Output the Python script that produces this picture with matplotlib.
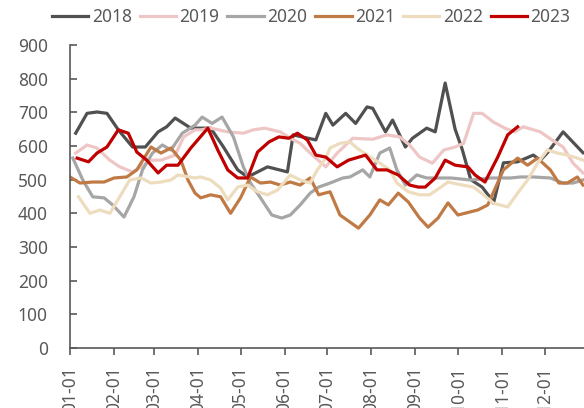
import matplotlib
matplotlib.use('Agg')
import matplotlib.pyplot as plt

plt.rcParams['font.family'] = ['Noto Sans', 'DejaVu Sans']

# dias desde 01-01 y valores
d2018 = [4, 12, 19, 26, 34, 44, 53, 62, 68, 74, 85, 99, 108, 118, 125, 139, 153, 157, 173, 180,
         185, 194, 201, 209, 213, 222, 227, 236, 241, 251, 257, 264, 271, 276, 282, 290, 296, 298,
         305, 315, 326, 331, 336, 347, 361]
v2018 = [638, 697, 701, 697, 648, 597, 597, 642, 657, 683, 653, 653, 597, 529, 508, 538, 523, 633,
         618, 697, 662, 697, 667, 716, 712, 642, 677, 597, 623, 653, 642, 787, 650, 590, 500, 478,
         445, 430, 550, 553, 573, 558, 580, 642, 580]

d2019 = [4, 12, 19, 28, 35, 44, 50, 57, 64, 74, 80, 88, 92, 99, 111, 122, 129, 137, 148, 155,
         162, 169, 180, 188, 199, 213, 223, 232, 239, 246, 255, 263, 271, 277, 284, 290, 298, 306,
         313, 319, 331, 336, 347, 354, 361]
v2019 = [579, 603, 594, 558, 538, 523, 538, 558, 558, 573, 627, 648, 648, 653, 642, 638, 648, 653,
         642, 623, 608, 579, 538, 579, 623, 620, 633, 627, 603, 567, 549, 588, 597, 608, 697, 697,
         671, 653, 642, 657, 642, 627, 597, 549, 520]

d2020 = [2, 9, 16, 24, 30, 38, 45, 51, 58, 65, 71, 79, 88, 93, 100, 107, 115, 122, 127, 135,
         142, 149, 155, 162, 169, 175, 183, 192, 197, 206, 211, 218, 225, 230, 236, 244, 251, 261,
         268, 282, 296, 310, 317, 326, 338, 347, 354, 361]
v2020 = [564, 499, 449, 446, 425, 389, 449, 529, 579, 603, 588, 638, 662, 686, 667, 686, 627, 538,
         490, 440, 395, 386, 395, 425, 460, 478, 490, 505, 508, 529, 508, 579, 594, 529, 484, 514,
         505, 505, 505, 499, 505, 505, 508, 508, 505, 490, 490, 499]

d2021 = [0, 7, 16, 24, 31, 40, 47, 57, 64, 71, 78, 83, 88, 92, 99, 106, 113, 120, 127, 134,
         141, 148, 155, 162, 169, 175, 183, 190, 197, 203, 211, 218, 224, 231, 238, 246, 252, 259,
         266, 273, 287, 294, 305, 315, 322, 329, 338, 344, 350, 357, 361]
v2021 = [508, 490, 493, 493, 505, 508, 529, 597, 579, 594, 558, 499, 460, 446, 455, 449, 400, 446,
         508, 490, 493, 484, 493, 484, 505, 455, 464, 395, 374, 356, 395, 440, 425, 460, 434, 386,
         359, 386, 431, 395, 410, 425, 529, 564, 543, 564, 529, 490, 490, 508, 484]

d2022 = [6, 14, 21, 28, 35, 42, 50, 57, 64, 71, 76, 88, 92, 99, 106, 111, 118, 125, 132, 139,
         146, 155, 162, 169, 174, 180, 183, 190, 197, 202, 209, 217, 225, 230, 238, 246, 253, 260,
         266, 276, 284, 291, 298, 308, 315, 322, 329, 336, 343, 350, 357, 361]
v2022 = [449, 400, 410, 400, 449, 499, 505, 490, 493, 499, 514, 505, 508, 499, 475, 440, 478, 484,
         464, 455, 469, 514, 499, 490, 529, 564, 594, 608, 612, 594, 573, 552, 529, 490, 464, 455,
         455, 475, 493, 484, 478, 455, 430, 419, 460, 499, 549, 588, 579, 573, 564, 558]

d2023 = [5, 13, 19, 26, 34, 41, 47, 54, 62, 68, 76, 85, 97, 104, 111, 118, 125, 132, 140, 147,
         154, 160, 167, 173, 180, 188, 196, 208, 216, 223, 231, 239, 245, 250, 257, 264, 271, 280,
         285, 292, 301, 308, 315]
v2023 = [564, 553, 579, 597, 648, 638, 582, 558, 520, 543, 543, 594, 653, 588, 529, 505, 505, 582,
         612, 627, 623, 638, 618, 573, 567, 538, 558, 573, 529, 529, 514, 484, 478, 478, 505, 558,
         543, 538, 514, 493, 567, 633, 657]

meses = [0, 31, 59, 90, 120, 151, 181, 212, 243, 273, 304, 334]
etiquetas = ['01-01', '02-01', '03-01', '04-01', '05-01', '06-01',
             '07-01', '08-01', '09-01', '10-01', '11-01', '12-01']

gris = '#595959'

fig = plt.figure(figsize=(5.84, 4.08), dpi=100)
ax = fig.add_axes([70 / 584, 60 / 408, 514 / 584, 303 / 408])

ax.plot(d2018, v2018, color='#505050', lw=2.3, label='2018')
ax.plot(d2019, v2019, color='#efc6c6', lw=2.3, label='2019')
ax.plot(d2020, v2020, color='#a6a6a6', lw=2.3, label='2020')
ax.plot(d2021, v2021, color='#c07a45', lw=2.3, label='2021')
ax.plot(d2022, v2022, color='#eddcbd', lw=2.3, label='2022')
ax.plot(d2023, v2023, color='#c00000', lw=2.3, label='2023')

ax.set_xlim(0, 361.7)
ax.set_ylim(0, 900)
ax.set_yticks(range(0, 901, 100))
ax.set_xticks(meses)
ax.set_xticklabels(etiquetas, rotation=90)

for s in ['top', 'right']:
    ax.spines[s].set_visible(False)
for s in ['left', 'bottom']:
    ax.spines[s].set_color(gris)
    ax.spines[s].set_linewidth(1.2)

ax.tick_params(axis='y', direction='in', length=5, width=1.2, color=gris,
               labelcolor=gris, labelsize=12.5, pad=16)
ax.tick_params(axis='x', direction='out', length=5, width=1.2, color=gris,
               labelcolor=gris, labelsize=12.5, pad=8)

fig.legend(loc='center', bbox_to_anchor=(0.533, 0.958), ncol=6, frameon=False,
           fontsize=12.5, handlelength=2.1, handletextpad=0.2, columnspacing=0.45,
           labelcolor=gris)

fig.savefig('out.png', dpi=100)
